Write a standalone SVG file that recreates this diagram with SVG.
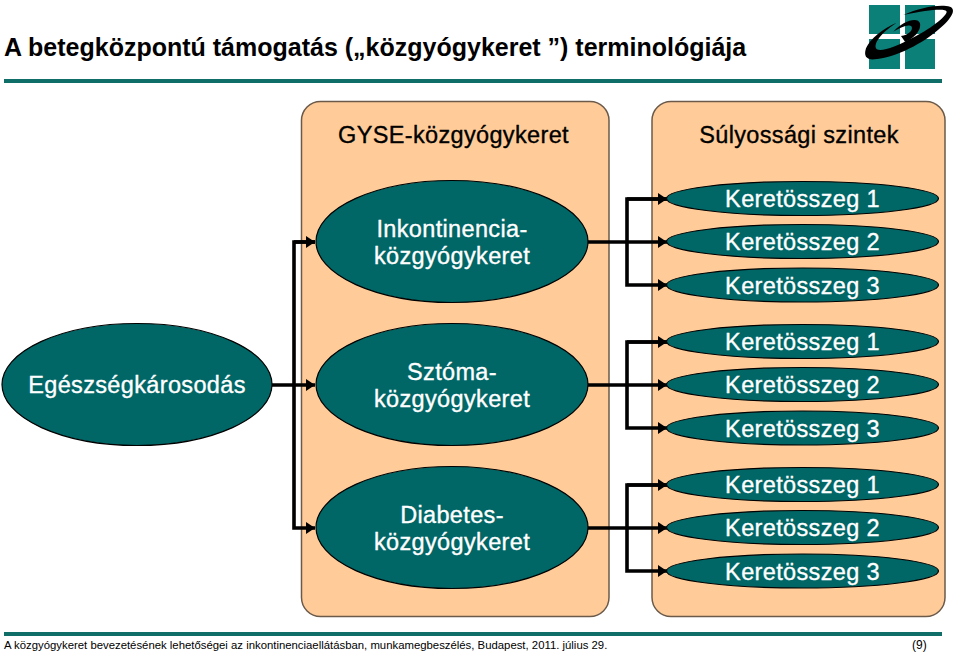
<svg xmlns="http://www.w3.org/2000/svg" width="960" height="652" viewBox="0 0 960 652">
<style>
text{font-family:"Liberation Sans",Arial,sans-serif;fill:#000}
.panel{fill:#ffcc99;stroke:#6b5a4a;stroke-width:1.5}
.big{fill:#006666;stroke:#000;stroke-width:1.2}
.lab,.head{font-size:23.5px;letter-spacing:.35px;text-anchor:middle}
.head{stroke:#000;stroke-width:.35px}
.lab{fill:#fff;stroke:#fff;stroke-width:.35px}
.c{fill:none;stroke:#000;stroke-width:3.6}
.rule{fill:#0f6f68}
.sq{fill:#0b8079}
</style>
<defs>
<marker id="a" markerUnits="userSpaceOnUse" markerWidth="10" markerHeight="12" refX="9" refY="6" orient="auto"><path d="M0 0L9 6L0 12Z" fill="#000"/></marker>
</defs>
<rect width="960" height="652" fill="#fff"/>
<g id="logo">
<rect class="sq" x="869" y="5" width="31" height="29"/>
<rect class="sq" x="905" y="5" width="30" height="29"/>
<rect class="sq" x="869" y="39" width="31" height="30"/>
<rect class="sq" x="905" y="39" width="30" height="30"/>
<g transform="translate(840 0) scale(.3333)">
<path d="M190 45C240 22 300 12 330 20C350 28 335 55 300 85C250 130 170 172 105 178C80 180 70 170 78 145C90 115 130 85 170 68C135 90 100 125 108 145C115 160 170 140 215 115C265 90 320 50 320 35C318 25 270 28 190 45Z" fill="#000"/>
<path d="M160 95C190 60 235 50 240 70C245 95 215 120 195 125L183 108C205 105 220 90 215 80C205 70 180 85 160 95Z" fill="#000"/>
</g>
</g>
<text id="title" x="4" y="56" font-size="25" font-weight="700">A betegközpontú támogatás („közgyógykeret ”) terminológiája</text>
<rect class="rule" x="4" y="79" width="938" height="4"/>
<g id="panel-left"><rect class="panel" x="301.500" y="101.500" width="307.500" height="515" rx="19"/><text class="head" x="453.500" y="143">GYSE-közgyógykeret</text></g>
<g id="panel-right"><rect class="panel" x="652" y="101.500" width="293" height="515" rx="19"/><text class="head" x="799" y="143">Súlyossági szintek</text></g>
<g id="connectors">
<path class="c" d="M272 385H315" marker-end="url(#a)"/>
<path class="c" d="M315 242H294V528H315" marker-end="url(#a)"/>
<path class="c" d="M294 242H315" marker-end="url(#a)"/>
<path class="c" d="M587 242H667" marker-end="url(#a)"/>
<path class="c" d="M667 199H627V285H667" marker-end="url(#a)"/>
<path class="c" d="M627 199H667" marker-end="url(#a)"/>
<path class="c" d="M587 385H667" marker-end="url(#a)"/>
<path class="c" d="M667 342H627V428H667" marker-end="url(#a)"/>
<path class="c" d="M627 342H667" marker-end="url(#a)"/>
<path class="c" d="M587 528H667" marker-end="url(#a)"/>
<path class="c" d="M667 485H627V571H667" marker-end="url(#a)"/>
<path class="c" d="M627 485H667" marker-end="url(#a)"/>
</g>
<g id="n-egeszseg"><ellipse class="big" cx="137" cy="384.500" rx="135" ry="61"/><text class="lab" x="137" y="393">Egészségkárosodás</text></g>
<g id="n-inko"><ellipse class="big" cx="452" cy="241.500" rx="136" ry="61"/><text class="lab" x="452" y="236.500">Inkontinencia-</text><text class="lab" x="452" y="263.500">közgyógykeret</text></g>
<g id="n-sztoma"><ellipse class="big" cx="452" cy="384.500" rx="136" ry="61"/><text class="lab" x="452" y="379.500">Sztóma-</text><text class="lab" x="452" y="406.500">közgyógykeret</text></g>
<g id="n-diab"><ellipse class="big" cx="452" cy="527.500" rx="136" ry="61"/><text class="lab" x="452" y="522.500">Diabetes-</text><text class="lab" x="452" y="549.500">közgyógykeret</text></g>
<g id="k1"><ellipse class="big" cx="802.500" cy="198.500" rx="136" ry="17"/><text class="lab" x="802.500" y="207">Keretösszeg 1</text></g>
<g id="k2"><ellipse class="big" cx="802.500" cy="241.500" rx="136" ry="17"/><text class="lab" x="802.500" y="250">Keretösszeg 2</text></g>
<g id="k3"><ellipse class="big" cx="802.500" cy="285" rx="136" ry="17"/><text class="lab" x="802.500" y="293.500">Keretösszeg 3</text></g>
<g id="k4"><ellipse class="big" cx="802.500" cy="341.500" rx="136" ry="17"/><text class="lab" x="802.500" y="350">Keretösszeg 1</text></g>
<g id="k5"><ellipse class="big" cx="802.500" cy="384.500" rx="136" ry="17"/><text class="lab" x="802.500" y="393">Keretösszeg 2</text></g>
<g id="k6"><ellipse class="big" cx="802.500" cy="428" rx="136" ry="17"/><text class="lab" x="802.500" y="436.500">Keretösszeg 3</text></g>
<g id="k7"><ellipse class="big" cx="802.500" cy="484.500" rx="136" ry="17"/><text class="lab" x="802.500" y="493">Keretösszeg 1</text></g>
<g id="k8"><ellipse class="big" cx="802.500" cy="527.500" rx="136" ry="17"/><text class="lab" x="802.500" y="536">Keretösszeg 2</text></g>
<g id="k9"><ellipse class="big" cx="802.500" cy="571" rx="136" ry="17"/><text class="lab" x="802.500" y="579.500">Keretösszeg 3</text></g>
<rect class="rule" x="4" y="632" width="938" height="4"/>
<text id="footer" x="4" y="649" font-size="11.350">A közgyógykeret bevezetésének lehetőségei az inkontinenciaellátásban, munkamegbeszélés, Budapest, 2011. július 29.</text>
<text id="page" x="912" y="649" font-size="12">(9)</text>
</svg>
